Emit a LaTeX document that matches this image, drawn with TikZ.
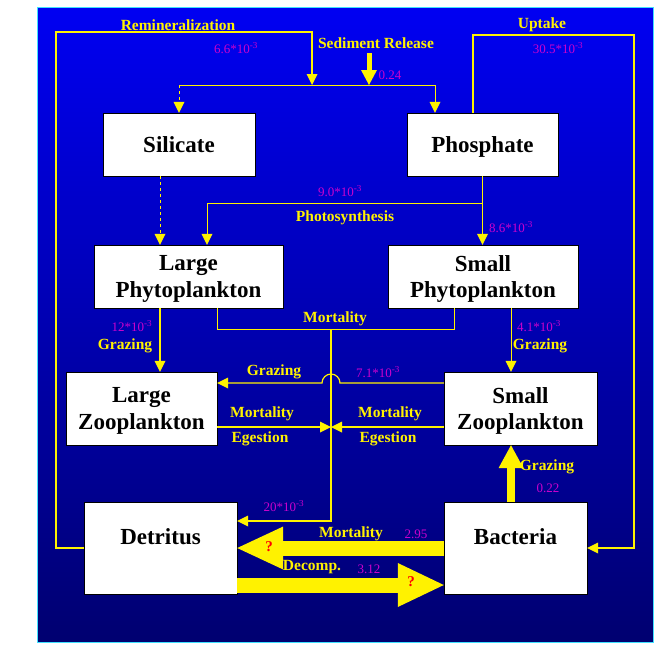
\documentclass[tikz,border=0pt]{standalone}
\usepackage{fontspec}
\setmainfont{Liberation Serif}
\usetikzlibrary{arrows.meta}
\definecolor{bgtop}{RGB}{0,0,242}
\definecolor{bgmid}{RGB}{0,0,196}
\definecolor{bgbot}{RGB}{0,0,112}
\definecolor{rate}{RGB}{204,0,204}
\definecolor{rim}{RGB}{64,224,255}

\begin{document}
\begin{tikzpicture}[x=1pt,y=-1pt,>={Triangle[width=11pt,length=11pt,line width=0pt]}]
		\tikzstyle{pool}=[draw=black,fill=white,inner sep=0,text depth=0pt,align=center,font=\fontsize{23}{26.5}\selectfont\bfseries]
		\tikzstyle{flow}=[draw=yellow,line width=1.2pt,->]
		\tikzstyle{fine}=[draw=yellow,line width=0.7pt]
		\tikzstyle{lab}=[text=yellow,inner sep=0,font=\fontsize{15.5}{17}\selectfont\bfseries]
		\tikzstyle{num}=[text=rate,inner sep=0,font=\fontsize{13}{15}\selectfont]
		\tikzstyle{ask}=[text=red,inner sep=0,font=\fontsize{15}{17}\selectfont\bfseries]

		\useasboundingbox (0,0) rectangle (658,657);
		\shade[top color=bgtop,middle color=bgmid,bottom color=bgbot] (37,7) rectangle (653,642);
		\draw[rim,line width=1pt] (37,7) rectangle (653,642);

		% pools
		\node[pool,minimum width=152pt,minimum height=63pt] (silicate) at (179,144.5) {Silicate};
		\node[pool,minimum width=151pt,minimum height=63pt] (phosphate) at (482.5,144.5) {Phosphate};
		\node[pool,minimum width=189pt,minimum height=63pt] (lphyto) at (188.5,276.5) {Large\\Phytoplankton};
		\node[pool,minimum width=190pt,minimum height=63pt] (sphyto) at (483,276.5) {Small\\Phytoplankton};
		\node[pool,minimum width=151pt,minimum height=73pt] (lzoo) at (141.5,408.5) {Large\\Zooplankton};
		\node[pool,minimum width=153pt,minimum height=73pt] (szoo) at (520.5,408.5) {Small\\Zooplankton};
		\node[pool,minimum width=153pt,text height=42pt,text depth=50pt] (detritus) at (160.5,548) {Detritus};
		\node[pool,minimum width=143pt,text height=42pt,text depth=50pt] (bacteria) at (515.5,548) {Bacteria};

		\coordinate (release) at (369,53);
		\coordinate (spread) at (369,85);
		\coordinate (photo) at (482.5,203);
		\coordinate (mort) at (331,329);
		\coordinate (hop) at (331,383);
		\coordinate (waste) at (331,427);

		% nutrients
		\draw[flow] (detritus.west) -| (56,32) -| ([xshift=-57pt]spread);
		\draw[yellow,line width=5pt,-{Triangle[width=16pt,length=15pt,line width=0pt]}] (release) -- (spread);
		\draw[fine] (spread) -- (spread -| silicate.north);
		\draw[flow,line width=0.9pt,dashed] (spread -| silicate.north) -- (silicate.north);
		\draw[flow,line width=0.9pt] (spread) -| ([xshift=-47.5pt]phosphate.north);
		\draw[flow,line width=1.5pt] ([xshift=-9.5pt]phosphate.north) |- (634,35) |- (bacteria.east);

		% photosynthesis
		\draw[flow] (phosphate.south) -- (phosphate.south |- sphyto.north);
		\draw[fine,->] (photo) -| ([xshift=18.5pt]lphyto.north);
		\draw[flow,line width=0.9pt,dashed] ([xshift=-19pt]silicate.south) -- ([xshift=-28.5pt]lphyto.north);

		% mortality and grazing
		\draw[fine] ([xshift=28.5pt]lphyto.south) |- (mort) -| ([xshift=-29pt]sphyto.south);
		\draw[flow] (mort) |- ([yshift=27pt]detritus.east);
		\draw[flow] ([xshift=-28.5pt]lphyto.south) -- ([xshift=18.5pt]lzoo.north);
		\draw[fine,->] ([xshift=28pt]sphyto.south) -- ([xshift=-9.5pt]szoo.north);
		\draw[flow] ([yshift=25.5pt]szoo.west) -- ([xshift=9pt]hop) arc[start angle=0,end angle=180,radius=9pt] -- ([yshift=25.5pt]lzoo.east);
		\draw[flow] ([yshift=-18.5pt]lzoo.east) -- (waste);
		\draw[flow] ([yshift=-18.5pt]szoo.west) -- (waste);

		% bacteria
		\draw[yellow,line width=8pt,-{Triangle[width=25pt,length=23pt,line width=0pt]}] ([xshift=-4.5pt]bacteria.north) -- ([xshift=-9.5pt]szoo.south);
		\draw[yellow,line width=15pt,-{Triangle[width=43pt,length=46pt,line width=0pt]}] (bacteria.west) -- (detritus.east);
		\draw[yellow,line width=15pt,-{Triangle[width=44pt,length=46pt,line width=0pt]}] ([yshift=-37pt]detritus.east) -- ([yshift=-37pt]bacteria.west);

		% labels
		\node[lab] (reminlab) at (178,25) {Remineralization};
		\node[lab] (sedlab) at (376,43) {Sediment Release};
		\node[lab] (uplab) at (542,25) {Uptake};
		\node[lab] (photolab) at (345,218) {Photosynthesis};
		\node[lab] (mortlab) at (335,319) {Mortality};
		\node[lab] (lgrazlab) at (125,346) {Grazing};
		\node[lab] (sgrazlab) at (540,346) {Grazing};
		\node[lab] (zgrazlab) at (274,372) {Grazing};
		\node[lab] (lmortlab) at (262,414) {Mortality};
		\node[lab] (legestlab) at (260,439) {Egestion};
		\node[lab] (smortlab) at (390,414) {Mortality};
		\node[lab] (segestlab) at (388,439) {Egestion};
		\node[lab] (bgrazlab) at (547,467) {Grazing};
		\node[lab] (bmortlab) at (351,534) {Mortality};
		\node[lab] (decomplab) at (312,567) {Decomp.};

		\node[num] (reminval) at (236,48) {6.6*10\textsuperscript{-3}};
		\node[num] (sedval) at (390,75) {0.24};
		\node[num] (upval) at (558,48) {30.5*10\textsuperscript{-3}};
		\node[num] (lphotoval) at (340,191) {9.0*10\textsuperscript{-3}};
		\node[num] (sphotoval) at (511,227) {8.6*10\textsuperscript{-3}};
		\node[num] (lgrazval) at (132,326) {12*10\textsuperscript{-3}};
		\node[num] (sgrazval) at (539,326) {4.1*10\textsuperscript{-3}};
		\node[num] (zgrazval) at (378,372) {7.1*10\textsuperscript{-3}};
		\node[num] (bgrazval) at (548,488) {0.22};
		\node[num] (mortval) at (284,506) {20*10\textsuperscript{-3}};
		\node[num] (bmortval) at (416,534) {2.95};
		\node[num] (decompval) at (369,569) {3.12};

		\node[ask] (bmortask) at (269,547) {?};
		\node[ask] (decompask) at (411,582) {?};
\end{tikzpicture}
\end{document}
